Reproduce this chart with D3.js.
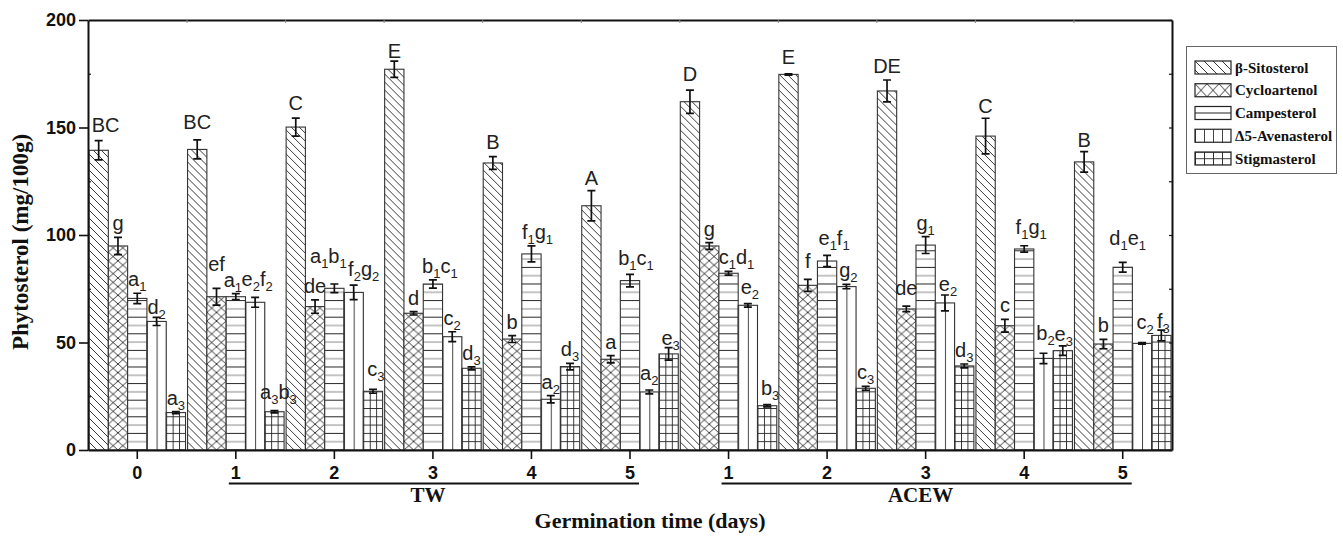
<!DOCTYPE html>
<html>
<head>
<meta charset="utf-8">
<script src="https://cdn.jsdelivr.net/npm/d3@7"></script>
<style>
  html, body { margin: 0; padding: 0; background: #fff; }
  svg { display: block; }
</style>
</head>
<body>
<svg id="chart" width="1343" height="536"></svg>
<script>
// ---------------- DATA ----------------
const groupKeys = ["0", "TW1", "TW2", "TW3", "TW4", "TW5", "ACEW1", "ACEW2", "ACEW3", "ACEW4", "ACEW5"];
const tickLabels = ["0", "1", "2", "3", "4", "5", "1", "2", "3", "4", "5"];
const seriesNames = ["β-Sitosterol", "Cycloartenol", "Campesterol", "Δ5-Avenasterol", "Stigmasterol"];
const yTicks = [0, 50, 100, 150, 200];

const sitosterol   = [139.4, 139.8, 150.2, 177.1, 133.5, 113.6, 162.0, 174.7, 167.0, 146.0, 134.0];
const sitosterolE  = [4.5, 4.4, 4.2, 3.8, 3.0, 7.0, 5.4, 0.3, 5.1, 8.3, 4.8];
const cycloartenol = [94.9, 71.3, 66.7, 63.6, 51.6, 42.2, 94.9, 76.6, 65.6, 57.8, 49.3];
const cycloartenolE= [4.0, 3.9, 3.1, 0.8, 1.6, 1.7, 1.6, 2.8, 1.3, 3.0, 2.2];
const campesterol  = [70.5, 71.3, 75.2, 77.2, 91.2, 78.8, 82.2, 87.9, 95.3, 93.5, 85.0];
const campesterolE = [2.4, 1.4, 2.0, 1.9, 3.7, 2.9, 0.9, 2.6, 3.9, 1.5, 2.3];
const avenasterol  = [59.8, 68.7, 73.3, 52.7, 23.6, 27.0, 67.3, 76.0, 68.4, 42.6, 49.6];
const avenasterolE = [1.9, 2.3, 3.4, 2.3, 1.7, 0.9, 0.8, 1.0, 3.7, 2.4, 0.4];
const stigmasterol = [17.4, 17.8, 27.3, 38.0, 38.8, 44.7, 20.6, 28.7, 39.1, 46.2, 53.3];
const stigmasterolE= [0.5, 0.5, 0.9, 0.7, 1.5, 2.9, 0.5, 0.9, 0.9, 2.2, 2.5];

const sitosterolL   = ["BC", "BC", "C", "E", "B", "A", "D", "E", "DE", "C", "B"];
const cycloartenolL = ["g", "ef", "de", "d", "b", "a", "g", "f", "de", "c", "b"];
const campesterolL  = ["a1", "a1", "a1b1", "b1c1", "f1g1", "b1c1", "c1d1", "e1f1", "g1", "f1g1", "d1e1"];
const avenasterolL  = ["d2", "e2f2", "f2g2", "c2", "a2", "a2", "e2", "g2", "e2", "b2", "c2"];
const stigmasterolL = ["a3", "a3b3", "c3", "d3", "d3", "e3", "b3", "c3", "d3", "e3", "f3"];

const groupLabels = [{name: "TW", from: 1, to: 5}, {name: "ACEW", from: 6, to: 10}];

const seriesValues = [sitosterol, cycloartenol, campesterol, avenasterol, stigmasterol];
const seriesErrors = [sitosterolE, cycloartenolE, campesterolE, avenasterolE, stigmasterolE];
const seriesLetters = [sitosterolL, cycloartenolL, campesterolL, avenasterolL, stigmasterolL];
const patternTypes = ["diag", "cross", "hline", "vline", "grid"];

// label nudges (layout only): key "group-series" -> [dx, dy]
const labelNudge = {
  "0-0": [7, -2], "0-3": [0, 4],
  "1-0": [0, -4], "1-1": [0, -10], "1-2": [-3, 0], "1-3": [2, -4], "1-4": [4, -5],
  "2-0": [0, -1], "2-2": [-6, -14], "2-3": [10, -2], "2-4": [3, -6],
  "3-0": [0, 4], "3-2": [7, 0],
  "4-0": [0, -1], "4-2": [6, 0],
  "5-0": [0, 1], "5-2": [6, -2], "5-3": [0, -3], "5-4": [2, 4],
  "6-0": [0, -2], "6-2": [8, 0], "6-3": [2, -3], "6-4": [3, -3],
  "7-0": [0, -3], "7-1": [0, -4], "7-2": [7, -3], "7-3": [2, 0],
  "8-1": [0, -4], "8-3": [3, 3],
  "9-0": [0, 2], "9-2": [7, -5], "9-3": [2, -6], "9-4": [1, 2],
  "10-0": [0, 2], "10-2": [5, -10], "10-3": [3, -7], "10-4": [2, 5]
};

// ---------------- LAYOUT ----------------
const svg = d3.select("#chart");
const L = 88, R = 1172, T = 20, B = 450;
const x = d3.scaleBand().domain(groupKeys).range([L, R]).padding(0);
const y = d3.scaleLinear().domain([0, 200]).range([B, T]);
const bw = 19.3;
const gOff = (x.bandwidth() - 5 * bw) / 2;

const sans = "'Liberation Sans', Arial, sans-serif";
const serif = "'Liberation Serif', 'Times New Roman', serif";
const ink = "#222";

const defs = svg.append("defs");
function makePattern(id, type, ox, oy, w, h) {
  const p = defs.append("pattern").attr("id", id).attr("patternUnits", "userSpaceOnUse")
    .attr("x", ox).attr("y", oy).attr("width", w).attr("height", h);
  p.append("rect").attr("width", w).attr("height", h).attr("fill", "#fff");
  const line = (d, c, sw) => p.append("path").attr("d", d).attr("stroke", c || ink)
    .attr("stroke-width", sw || 0.9).attr("fill", "none");
  if (type === "diag") {
    line(`M0,0L${w},${h}M${-1},${h - 1}L1,${h + 1}M${w - 1},-1L${w + 1},1`);
  } else if (type === "cross") {
    line(`M0,0L${w},${h}M${w},0L0,${h}`);
  } else if (type === "hline") {
    line(`M0,0.5H${w}`, ink, 1);
    line(`M0,${h / 2 + 0.5}H${w}`, "#8a8a8a", 1);
  } else if (type === "hmid") {
    line(`M0,${h / 2}H${w}`, ink, 1);
  } else if (type === "vline") {
    line(`M0.5,0V${h}`, "#444", 1);
  } else if (type === "grid") {
    line(`M0.5,0V${h}M0,0.5H${w}`, ink, 0.9);
  }
}

// ---------------- BARS ----------------
const barsG = svg.append("g");
const errG = svg.append("g");
const labG = svg.append("g");

function addLabel(str, cx, yb) {
  const t = labG.append("text").attr("x", cx).attr("y", yb).attr("text-anchor", "middle")
    .style("font-family", sans).style("font-size", "20px").attr("fill", ink);
  let sub = false;
  for (const ch of str) {
    const isDigit = /[0-9]/.test(ch);
    const ts = t.append("tspan").text(ch);
    if (isDigit) {
      ts.style("font-size", "13px");
      if (!sub) ts.attr("dy", 5);
      sub = true;
    } else {
      if (sub) ts.attr("dy", -5);
      sub = false;
    }
  }
}

groupKeys.forEach((g, gi) => {
  seriesNames.forEach((s, si) => {
    const v = seriesValues[si][gi];
    const e = seriesErrors[si][gi];
    const bx = x(g) + gOff + si * bw;
    const id = `p-${gi}-${si}`;
    const type = patternTypes[si];
    if (type === "diag") makePattern(id, type, bx, B, 8, 8);
    else if (type === "cross") makePattern(id, type, bx, B, bw / 2, 8.6);
    else if (type === "hline") makePattern(id, type, bx, B - 0.5, 10, 16.6);
    else if (type === "vline") makePattern(id, type, bx, B, bw / 2, 10);
    else makePattern(id, type, bx, B - 0.5, bw / 3, 8.3);

    barsG.append("rect")
      .attr("x", bx).attr("y", y(v)).attr("width", bw).attr("height", y(0) - y(v))
      .attr("fill", `url(#${id})`).attr("stroke", "#333").attr("stroke-width", 1.1);

    const cx = bx + bw / 2;
    const yt = y(v + e), yb2 = y(v - e);
    errG.append("path")
      .attr("d", `M${cx},${yt}V${yb2}M${cx - 4},${yt}H${cx + 4}M${cx - 4},${yb2}H${cx + 4}`)
      .attr("stroke", "#111").attr("stroke-width", 1.7).attr("fill", "none");

    const nd = labelNudge[`${gi}-${si}`] || [0, 0];
    addLabel(seriesLetters[si][gi], cx + nd[0], yt - 7 + nd[1]);
  });
});

// ---------------- AXES ----------------
const axisStyle = sel => {
  sel.select(".domain").attr("stroke", "#111").attr("stroke-width", 2);
  sel.selectAll(".tick line").attr("stroke", "#111").attr("stroke-width", 1.6);
};

// left axis
const yAxis = svg.append("g").attr("transform", `translate(${L},0)`)
  .call(d3.axisLeft(y).tickValues(yTicks).tickSize(9).tickSizeOuter(0).tickPadding(3));
axisStyle(yAxis);
yAxis.selectAll("text").style("font-family", sans).style("font-weight", "bold")
  .style("font-size", "18px").attr("fill", "#111");
// minor inner ticks left
svg.append("g").attr("transform", `translate(${L},0)`)
  .call(d3.axisRight(y).tickValues([25, 75, 125, 175]).tickSize(3).tickFormat(""))
  .call(s => { s.select(".domain").remove(); s.selectAll(".tick line").attr("stroke", "#111").attr("stroke-width", 1.2); });

// right axis (ticks inward)
const rAxis = svg.append("g").attr("transform", `translate(${R},0)`)
  .call(d3.axisLeft(y).tickValues([0, 25, 50, 75, 100, 125, 150, 175, 200]).tickSize(3).tickSizeOuter(0).tickFormat(""));
axisStyle(rAxis);
rAxis.selectAll(".tick line").attr("stroke-width", 1.2);

// top axis (small ticks at group boundaries)
const bounds = groupKeys.slice(1).map(g => x(g));
const topScale = d3.scaleLinear().domain([L, R]).range([L, R]);
const tAxis = svg.append("g").attr("transform", `translate(0,${T})`)
  .call(d3.axisBottom(topScale).tickValues(bounds).tickSize(3).tickSizeOuter(0).tickFormat(""));
axisStyle(tAxis);
tAxis.selectAll(".tick line").attr("stroke", "#888").attr("stroke-width", 1);

// bottom axis
const xAxis = svg.append("g").attr("transform", `translate(0,${B})`)
  .call(d3.axisBottom(x).tickFormat((d, i) => tickLabels[i]).tickSize(9).tickSizeOuter(0).tickPadding(7));
axisStyle(xAxis);
xAxis.selectAll("text").style("font-family", sans).style("font-weight", "bold")
  .style("font-size", "18px").attr("fill", "#111");

// group underlines and names
groupLabels.forEach(gl => {
  const x1 = x(groupKeys[gl.from]) + x.bandwidth() / 2 - 7;
  const x2 = x(groupKeys[gl.to]) + x.bandwidth() / 2 + 9;
  svg.append("line").attr("x1", x1).attr("x2", x2).attr("y1", 483.5).attr("y2", 483.5)
    .attr("stroke", "#111").attr("stroke-width", 2);
  const mid = x(groupKeys[Math.round((gl.from + gl.to) / 2)]) + x.bandwidth() / 2 - 5;
  svg.append("text").attr("x", mid).attr("y", 502).attr("text-anchor", "middle")
    .style("font-family", serif).style("font-weight", "bold").style("font-size", "21px")
    .attr("fill", "#111").text(gl.name);
});

// axis titles
svg.append("text").attr("x", 650).attr("y", 528).attr("text-anchor", "middle")
  .style("font-family", serif).style("font-weight", "bold").style("font-size", "22px")
  .attr("fill", "#111").text("Germination time (days)");
svg.append("text").attr("transform", "translate(28,242) rotate(-90)").attr("text-anchor", "middle")
  .style("font-family", serif).style("font-weight", "bold").style("font-size", "23px")
  .attr("fill", "#111").text("Phytosterol (mg/100g)");

// ---------------- LEGEND ----------------
const lg = svg.append("g");
lg.append("rect").attr("x", 1186.5).attr("y", 46.5).attr("width", 150).attr("height", 127)
  .attr("fill", "#fff").attr("stroke", "#666").attr("stroke-width", 1);
seriesNames.forEach((s, si) => {
  const cy = 67.5 + si * 22.75;
  const sx = 1195, sy = cy - 6.5, sw = 36, sh = 13;
  const id = `lp-${si}`;
  const type = patternTypes[si];
  if (type === "diag") makePattern(id, "diag", sx, sy, 9, 9);
  else if (type === "cross") makePattern(id, "cross", sx, sy, 12, 13);
  else if (type === "hline") makePattern(id, "hmid", sx, sy, 36, 13);
  else if (type === "vline") makePattern(id, "vline", sx, sy, 9, 13);
  else makePattern(id, "grid", sx, sy - 0.25, 9, 6.5);
  lg.append("rect").attr("x", sx).attr("y", sy).attr("width", sw).attr("height", sh)
    .attr("fill", `url(#${id})`).attr("stroke", "#222").attr("stroke-width", 1.2);
  lg.append("text").attr("x", 1235).attr("y", cy + 5)
    .style("font-family", serif).style("font-weight", "bold").style("font-size", "15px")
    .attr("fill", "#111").text(s);
});
</script>
</body>
</html>
